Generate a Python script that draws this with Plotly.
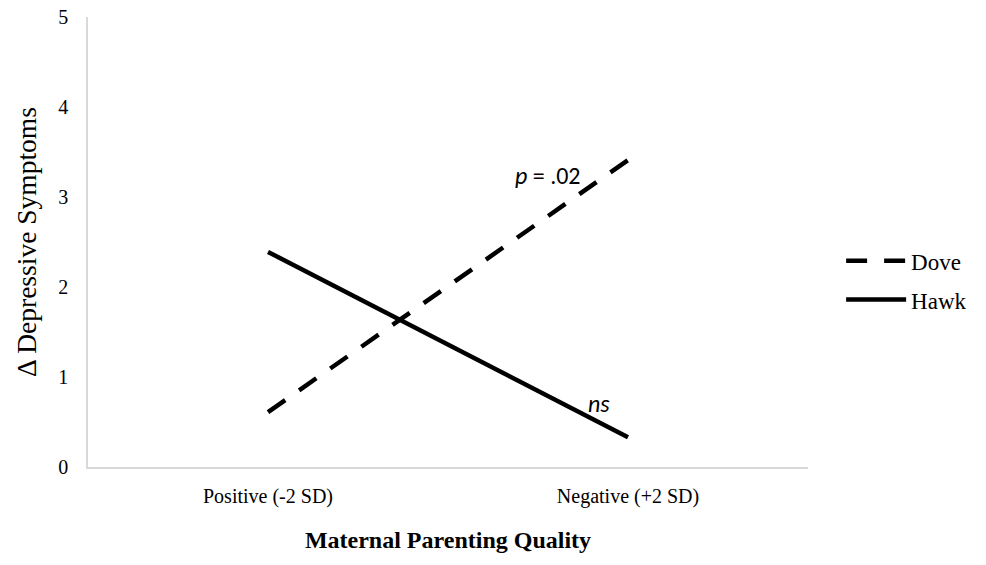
import plotly.graph_objects as go

categories = ["Positive (-2 SD)", "Negative (+2 SD)"]
dove = [0.61, 3.41]
hawk = [2.39, 0.33]
y_ticks = [0, 1, 2, 3, 4, 5]

serif = "Liberation Serif, Times New Roman, serif"
sans = "Carlito, Liberation Sans, Arial, sans-serif"

fig = go.Figure()
fig.add_trace(go.Scatter(x=categories, y=dove, mode="lines", name="Dove", legendgroup="d",
                         line=dict(color="black", width=4.5, dash="21px,17px")))
fig.add_trace(go.Scatter(x=categories, y=hawk, mode="lines", name="Hawk", legendgroup="h",
                         line=dict(color="black", width=4.5)))

fig.add_annotation(x=0.778, y=3.24, xref="x", yref="y", text="<i>p</i> = .02",
                   showarrow=False, font=dict(family=sans, size=24, color="black"))
fig.add_annotation(x=0.92, y=0.71, xref="x", yref="y", text="<i>ns</i>",
                   showarrow=False, font=dict(family=sans, size=24, color="black"))

fig.update_layout(
    width=986, height=565,
    margin=dict(l=88, r=178, t=17, b=98),
    plot_bgcolor="white", paper_bgcolor="white",
    font=dict(family=serif, size=20, color="black"),
    showlegend=True,
    legend=dict(x=1.046, y=0.415, xanchor="left", yanchor="middle",
                font=dict(family=serif, size=23, color="black"),
                itemwidth=60, tracegroupgap=6,
                bgcolor="rgba(0,0,0,0)"),
    xaxis=dict(
        type="category", showgrid=False, showline=True, linecolor="#d9d9d9", linewidth=1.5,
        ticks="", tickfont=dict(family=serif, size=20, color="black"),
        ticklabelstandoff=10, automargin=False,
        title=dict(text="<b>Maternal Parenting Quality</b>",
                   font=dict(family=serif, size=24, color="black"), standoff=24),
        range=[-0.5, 1.5],
    ),
    yaxis=dict(
        range=[0, 5], tickvals=y_ticks, showgrid=False, zeroline=False,
        showline=True, linecolor="#d9d9d9", linewidth=1.5, ticks="",
        tickfont=dict(family=serif, size=20, color="black"),
        ticklabelstandoff=14, automargin=False,
        title=dict(text="Δ Depressive Symptoms",
                   font=dict(family=serif, size=27.5, color="black"), standoff=14),
    ),
)

fig.write_html("out.html",
               config={"displayModeBar": False},
               post_script="document.body.style.margin='0';document.body.style.padding='0';")
